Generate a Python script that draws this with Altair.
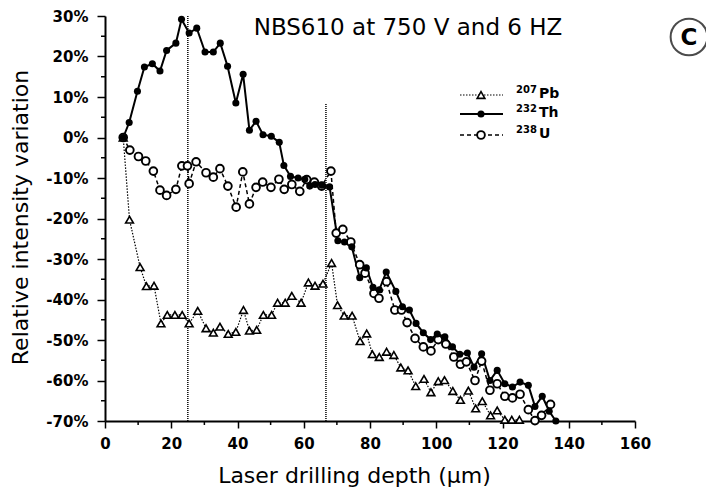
import altair as alt
import pandas as pd

# ---- data ----
pb_x = [5.5, 7.4, 10.6, 12.5, 14.8, 16.9, 18.8, 21.1, 23.3, 25.4, 28.0, 30.5, 32.7, 34.7, 37.2, 39.5, 41.8, 43.6, 45.8, 47.8,
        50.3, 52.1, 54.4, 56.4, 59.2, 61.4, 63.4, 65.8, 68.4, 70.2, 72.2, 74.6, 77.0, 79.0, 80.7, 82.8, 85.0, 87.2, 89.3, 91.5,
        93.8, 96.3, 98.4, 100.6, 102.5, 105.0, 107.3, 109.7, 111.9, 113.9, 116.4, 118.4, 120.7, 122.8, 125.1]
pb_y = [0, -20.3, -32.0, -36.7, -36.6, -45.9, -43.8, -43.8, -43.8, -45.9, -42.8, -47.1, -48.2, -46.7, -48.5, -48.0, -42.6, -47.7, -47.5, -43.8,
        -43.8, -40.8, -40.8, -39.1, -40.8, -35.8, -36.6, -36.1, -31.0, -41.4, -44.0, -44.0, -50.3, -48.4, -53.5, -54.2, -52.9, -53.7, -56.8, -57.5,
        -61.4, -59.6, -62.9, -60.2, -59.9, -62.6, -64.8, -62.5, -66.9, -65.1, -68.6, -67.4, -69.7, -69.7, -69.7]

th_x = [5.5, 7.3, 9.8, 11.9, 14.3, 16.6, 18.6, 21.4, 23.1, 25.4, 27.7, 30.2, 32.7, 34.8, 37.0, 39.5, 41.7, 43.6, 45.6, 47.7,
        50.2, 52.6, 54.0, 56.0, 58.3, 60.3, 61.8, 63.4, 65.5, 67.8, 70.3, 72.3, 74.5, 76.9, 78.9, 80.9, 82.8, 84.9, 87.8, 89.8,
        91.9, 93.9, 96.1, 98.3, 100.3, 102.6, 104.9, 107.1, 109.4, 111.4, 113.7, 116.2, 118.4, 120.7, 123.0, 125.3, 127.8, 129.8, 132.0, 134.1,
        136.1]
th_y = [0, 3.7, 11.4, 17.4, 18.2, 16.4, 21.5, 23.3, 29.2, 25.8, 27.0, 21.1, 21.1, 23.3, 17.6, 8.5, 15.6, 1.8, 4.0, 0.7,
        0.3, -1.2, -6.9, -9.6, -10.0, -10.3, -12.0, -11.6, -11.8, -12.2, -25.5, -25.8, -27.0, -34.6, -32.2, -37.0, -37.6, -33.2, -38.0, -41.8,
        -42.6, -45.9, -48.2, -49.9, -48.5, -49.2, -51.7, -53.5, -53.2, -56.7, -53.4, -60.0, -57.5, -60.8, -61.6, -60.4, -61.2, -66.4, -63.9, -67.6,
        -70.0]

u_x = [5.5, 7.5, 10.1, 12.3, 14.6, 16.6, 18.6, 21.4, 23.2, 24.9, 25.4, 27.5, 30.5, 32.7, 34.7, 37.1, 39.6, 41.6, 43.6, 45.6,
       47.6, 50.1, 52.5, 54.1, 56.4, 58.8, 60.9, 63.2, 65.4, 68.2, 69.8, 71.8, 74.2, 76.9, 78.5, 81.2, 82.7, 85.0, 87.5, 89.5,
       91.2, 93.6, 96.1, 98.4, 100.6, 102.9, 105.3, 107.3, 109.1, 111.7, 113.7, 116.2, 118.4, 120.7, 123.0, 125.3, 127.8, 129.8, 131.8, 134.5]
u_y = [0, -3.1, -4.7, -5.8, -8.3, -13.0, -14.3, -12.8, -7.0, -7.0, -11.4, -6.0, -8.7, -9.8, -7.7, -12.0, -17.2, -8.5, -16.4, -12.3,
       -11.0, -12.3, -10.3, -12.8, -11.6, -13.3, -10.4, -11.0, -12.0, -8.3, -23.6, -22.7, -25.8, -31.4, -33.5, -38.5, -39.7, -35.6, -42.6, -42.6,
       -45.7, -49.6, -51.7, -52.7, -49.9, -51.0, -54.2, -56.0, -55.4, -60.0, -55.2, -62.4, -60.8, -63.9, -64.3, -63.4, -67.2, -69.9, -68.6, -65.9]

vline_x = [25.0, 66.7]
vline_top = [30.0, 8.5]

x_major = list(range(0, 161, 20))
x_minor = list(range(10, 161, 20))
y_major = list(range(-70, 31, 10))
y_minor = list(range(-65, 30, 10))

title_text = "NBS610 at 750 V and 6 HZ"
legend_iso = ["207", "232", "238"]
legend_el = ["Pb", "Th", "U"]

FONT = "DejaVu Sans"
W, H = 530, 405


def frame(xs, ys):
    return pd.DataFrame({"x": xs, "y": ys, "i": list(range(len(xs)))})


pb = frame(pb_x, pb_y)
th = frame(th_x, th_y)
u = frame(u_x, u_y)

xscale = alt.Scale(domain=[0, 160], nice=False, zero=False)
yscale = alt.Scale(domain=[-70, 30], nice=False, zero=False)

x_axis = alt.Axis(values=x_major, title="Laser drilling depth (µm)", grid=False,
                  labelFont=FONT, labelFontSize=15, labelFontWeight="bold", labelColor="black",
                  tickSize=7, tickWidth=1.5, tickColor="black", labelPadding=8,
                  domainColor="black", domainWidth=2,
                  titleFont=FONT, titleFontSize=22, titleFontWeight="normal", titleColor="black",
                  titleX=249, titleY=54, titleBaseline="middle", titleAlign="center")
y_axis = alt.Axis(values=y_major, title="Relative intensity variation", grid=False,
                  labelExpr="datum.value + '%'",
                  labelFont=FONT, labelFontSize=15, labelFontWeight="bold", labelColor="black",
                  tickSize=8, tickWidth=1.5, tickColor="black", labelPadding=9,
                  domainColor="black", domainWidth=2,
                  titleFont=FONT, titleFontSize=22, titleFontWeight="normal", titleColor="black",
                  titleX=-85, titleY=201, titleAngle=270, titleBaseline="middle", titleAlign="center")

X = alt.X("x:Q", scale=xscale, axis=x_axis)
Y = alt.Y("y:Q", scale=yscale, axis=y_axis)

# vertical marker lines
vdf = pd.DataFrame({"x": vline_x, "y": [-70.0] * len(vline_x), "y2": vline_top})
vrules = alt.Chart(vdf).mark_rule(color="#111", strokeWidth=1.6, strokeDash=[1, 1]).encode(
    x=X, y=Y, y2="y2:Q")

# minor ticks
xminor = alt.Chart(pd.DataFrame({"x": x_minor})).mark_rule(color="black", strokeWidth=1.5).encode(
    x=X, y=alt.value(H), y2=alt.value(H + 4))
yminor = alt.Chart(pd.DataFrame({"y": y_minor})).mark_rule(color="black", strokeWidth=1.5).encode(
    y=Y, x=alt.value(0), x2=alt.value(-4))

pb_line = alt.Chart(pb).mark_line(color="black", strokeWidth=1.2, strokeDash=[1.5, 1.5]).encode(x=X, y=Y, order="i:Q")
th_line = alt.Chart(th).mark_line(color="black", strokeWidth=2).encode(x=X, y=Y, order="i:Q")
u_line = alt.Chart(u).mark_line(color="black", strokeWidth=1.5, strokeDash=[4, 3]).encode(x=X, y=Y, order="i:Q")

pb_pts = alt.Chart(pb).mark_point(shape="triangle-up", size=60, fill="white", fillOpacity=1,
                                  stroke="black", strokeWidth=1.6, opacity=1).encode(x=X, y=Y)
th_pts = alt.Chart(th).mark_circle(size=50, color="black", opacity=1).encode(x=X, y=Y)
u_pts = alt.Chart(u).mark_point(shape="circle", size=60, fill="white", fillOpacity=1,
                                stroke="black", strokeWidth=1.9, opacity=1).encode(x=X, y=Y)

# title and panel mark
one = pd.DataFrame({"t": [title_text]})
title = alt.Chart(one).mark_text(font=FONT, fontSize=23, color="black", align="center", baseline="middle").encode(
    x=alt.value(303), y=alt.value(12), text="t:N")
cdf = pd.DataFrame({"t": ["C"]})
c_circle = alt.Chart(cdf).mark_point(shape="circle", size=1350, stroke="black", strokeWidth=2, filled=False).encode(
    x=alt.value(584), y=alt.value(21))
c_text = alt.Chart(cdf).mark_text(font=FONT, fontSize=23, fontWeight="bold", color="black", align="center",
                                  baseline="middle").encode(x=alt.value(584), y=alt.value(22), text="t:N")

# legend (manual, to allow superscripts)
rows_y = [79, 98, 119]
legend_layers = []
dashes = [[1.5, 1.5], None, [4, 3]]
widths = [1.2, 2, 1.5]
for k in range(3):
    ld = pd.DataFrame({"iso": [legend_iso[k]], "el": [legend_el[k]]})
    rule_kwargs = dict(color="black", strokeWidth=widths[k])
    if dashes[k] is not None:
        rule_kwargs["strokeDash"] = dashes[k]
    legend_layers.append(alt.Chart(ld).mark_rule(**rule_kwargs).encode(
        x=alt.value(355), x2=alt.value(398), y=alt.value(rows_y[k])))
    if k == 0:
        sym = alt.Chart(ld).mark_point(shape="triangle-up", size=60, fill="white", fillOpacity=1,
                                       stroke="black", strokeWidth=1.6)
    elif k == 1:
        sym = alt.Chart(ld).mark_circle(size=50, color="black", opacity=1)
    else:
        sym = alt.Chart(ld).mark_point(shape="circle", size=60, fill="white", fillOpacity=1,
                                       stroke="black", strokeWidth=1.9)
    legend_layers.append(sym.encode(x=alt.value(376), y=alt.value(rows_y[k])))
    legend_layers.append(alt.Chart(ld).mark_text(font=FONT, fontSize=10, fontWeight="bold", color="black",
                                                 align="left", baseline="alphabetic").encode(
        x=alt.value(411), y=alt.value(rows_y[k] - 2), text="iso:N"))
    legend_layers.append(alt.Chart(ld).mark_text(font=FONT, fontSize=14, fontWeight="bold", color="black",
                                                 align="left", baseline="alphabetic").encode(
        x=alt.value(434), y=alt.value(rows_y[k] + 3), text="el:N"))

chart = alt.layer(
    vrules, xminor, yminor,
    pb_line, u_line, th_line,
    pb_pts, u_pts, th_pts,
    title, c_circle, c_text,
    *legend_layers
).properties(
    width=W, height=H,
    autosize=alt.AutoSizeParams(type="none"),
    padding={"left": 105, "top": 16, "right": 706 - 105 - W, "bottom": 491 - 16 - H},
    background="white"
).configure_view(stroke=None).configure_axis(labelFlush=False)

chart.save("out.html", embed_options={"renderer": "svg", "actions": False})
